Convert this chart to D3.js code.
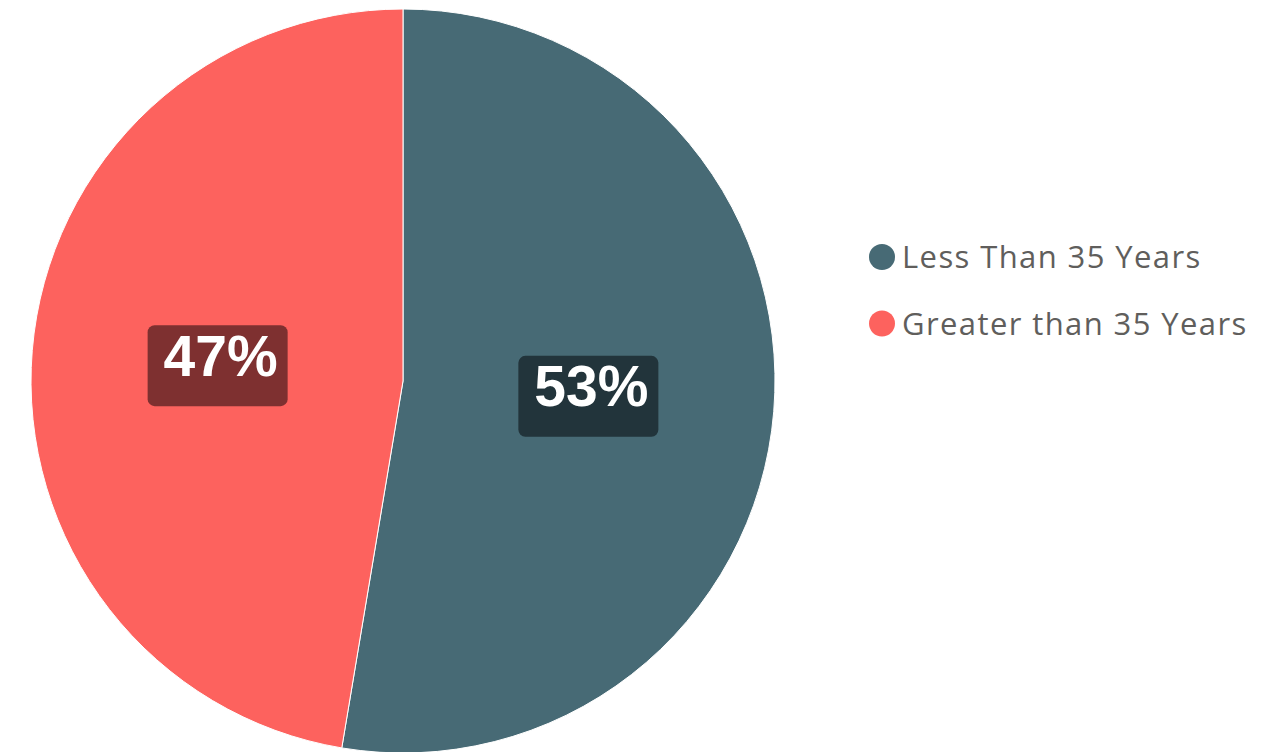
<!DOCTYPE html>
<html>
<head>
<meta charset="utf-8">
<script src="https://cdn.jsdelivr.net/npm/d3@7"></script>
<style>
  html, body { margin: 0; padding: 0; background: #ffffff; }
  svg { display: block; }
</style>
</head>
<body>
<svg id="chart" width="1283" height="752"></svg>
<script>
// Age groups and head counts
const categories = ["Less Than 35 Years", "Greater than 35 Years"];
const counts = [10, 9];
const sliceColors = ["#476a75", "#fd625e"];
const labelBoxColors = ["#22343b", "#7e3030"];

const svg = d3.select("#chart");
const cx = 403, cy = 381, radius = 372;

const data = categories.map((c, i) => ({ category: c, value: counts[i], i }));
const total = d3.sum(counts);
const pct = d3.format(".0%");

const pie = d3.pie().sort(null).value(d => d.value).startAngle(0);
const arcs = pie(data);
const arc = d3.arc().innerRadius(0).outerRadius(radius);
const labelArc = d3.arc().innerRadius(radius / 2).outerRadius(radius / 2);

const g = svg.append("g").attr("transform", `translate(${cx},${cy})`);

g.selectAll("path.slice")
  .data(arcs)
  .join("path")
  .attr("class", "slice")
  .attr("d", arc)
  .attr("fill", d => sliceColors[d.data.i])
  .attr("stroke", "#ffffff")
  .attr("stroke-width", 1);

// Data labels: rounded boxes with percentage text
const boxW = 140, boxH = 81;
const labels = g.selectAll("g.label")
  .data(arcs)
  .join("g")
  .attr("class", "label")
  .attr("transform", d => {
    const [x, y] = labelArc.centroid(d);
    return `translate(${x},${y})`;
  });

labels.append("rect")
  .attr("x", -boxW / 2)
  .attr("y", -boxH / 2)
  .attr("width", boxW)
  .attr("height", boxH)
  .attr("rx", 7)
  .attr("fill", d => labelBoxColors[d.data.i]);

labels.append("text")
  .attr("x", 3)
  .attr("y", 10)
  .attr("text-anchor", "middle")
  .attr("font-family", "'Liberation Sans', Arial, sans-serif")
  .attr("font-weight", "bold")
  .attr("font-size", 57)
  .attr("fill", "#ffffff")
  .text(d => pct(d.data.value / total));

// Legend
const legend = svg.append("g").attr("transform", "translate(882,257)");
const rows = legend.selectAll("g")
  .data(data)
  .join("g")
  .attr("transform", (d, i) => `translate(0,${i * 66.5})`);

rows.append("circle")
  .attr("r", 13)
  .attr("fill", d => sliceColors[d.i]);

rows.append("text")
  .attr("x", 20)
  .attr("y", 11)
  .attr("font-family", "'Segoe UI', 'Open Sans', sans-serif")
  .attr("font-size", 31)
  .attr("letter-spacing", 1.4)
  .attr("fill", "#605e5c")
  .text(d => d.category);
</script>
</body>
</html>
